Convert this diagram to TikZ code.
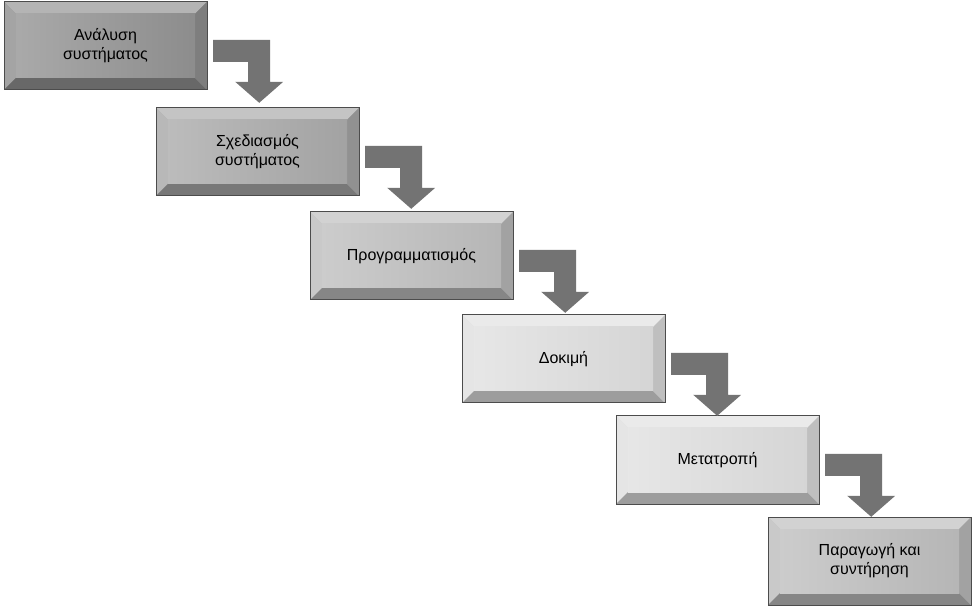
\documentclass[tikz,border=0pt]{standalone}
\usepackage{fontspec}
\setmainfont{Liberation Sans}
\usetikzlibrary{calc}
\tikzset{lbl/.style={inner sep=0pt,align=center,font=\fontsize{16}{19}\selectfont,minimum width=203pt,minimum height=88pt},
 arr/.style={fill=black!55,draw=none}}
\newcommand\bevbox[5]{% name, x, y, base gray %, text
 \begin{scope}[shift={(#2,#3)}]
  \fill[black!#4!white] (0,0) rectangle (203,88);
  \fill[black!#4!white,draw=none] (0,0)--(203,0)--(191,12)--(12,12)--cycle;
  \fill[black!#4!white!70!white] (0,0)--(203,0)--(191,12)--(12,12)--cycle;
  \fill[black!#4!white!85!white] (0,0)--(12,12)--(12,76)--(0,88)--cycle;
  \fill[black!#4!white!70!black] (0,88)--(12,76)--(191,76)--(203,88)--cycle;
  \fill[black!#4!white!85!black] (203,0)--(191,12)--(191,76)--(203,88)--cycle;
  \shade[left color=black!#4!white!80!white,right color=black!#4!white!95!black] (12,12) rectangle (191,76);
  \draw[black!70,line width=1pt] (0,0) rectangle (203,88);
 \end{scope}
 \node[lbl] (#1) at (#2+101.5,#3+44) {#5};}
\newcommand\stairarrow[1]{%
 \fill[arr] ($(#1.north east)+(6,38)$) -- ++(57,0) -- ++(0,42) -- ++(13,0) -- ++(-24,21) -- ++(-24,-21) -- ++(13,0) -- ++(0,-20) -- ++(-35,0) -- cycle;}
\begin{document}
\begin{tikzpicture}[x=1pt,y=-1pt]
\useasboundingbox (0,0) rectangle (975,609);
\bevbox{a}{4}{2}{42}{Ανάλυση\\συστήματος}
\bevbox{b}{156}{108}{33}{Σχεδιασμός\\συστήματος}
\bevbox{c}{310}{212}{25}{Προγραμματισμός}
\bevbox{d}{462}{315}{12}{Δοκιμή}
\bevbox{e}{616}{416}{12}{Μετατροπή}
\bevbox{f}{768}{517}{25}{Παραγωγή και\\συντήρηση}
\stairarrow{a}\stairarrow{b}\stairarrow{c}\stairarrow{d}\stairarrow{e}
\end{tikzpicture}
\end{document}
